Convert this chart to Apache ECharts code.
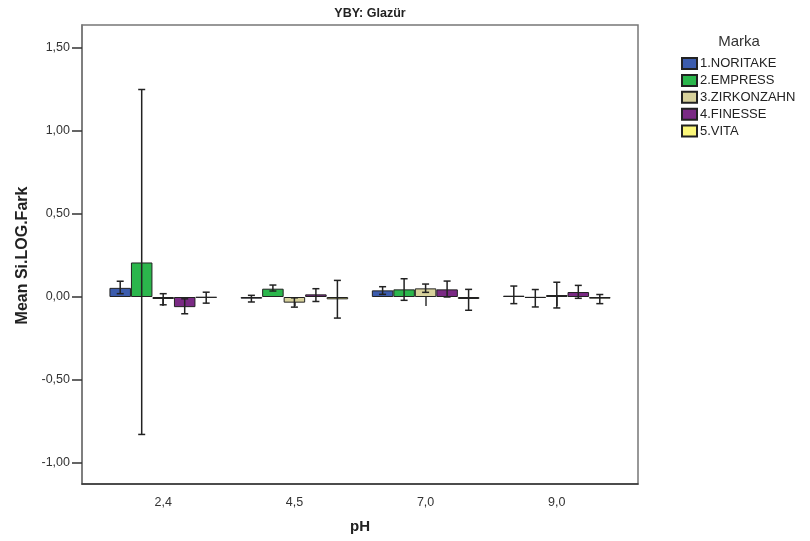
<!DOCTYPE html>
<html>
<head>
<meta charset="utf-8">
<script src="https://cdn.jsdelivr.net/npm/echarts@6/dist/echarts.min.js"></script>
<style>html,body{margin:0;padding:0;background:#fff;}#c{width:810px;height:541px;}</style>
</head>
<body>
<div id="c"></div>
<script>
var categories = ['2,4', '4,5', '7,0', '9,0'];
var brands = ['1.NORITAKE', '2.EMPRESS', '3.ZIRKONZAHN', '4.FINESSE', '5.VITA'];
var colors = ['#3c5cad', '#2bb64c', '#d8d29c', '#7a2a84', '#fbf77a'];
var yTicks = [-1.0, -0.5, 0.0, 0.5, 1.0, 1.5];

// means per brand across pH categories
var noritake = [0.055, -0.010, 0.040, 0.008];
var empress = [0.208, 0.050, 0.046, -0.005];
var zirkonzahn = [-0.012, -0.034, 0.052, 0.012];
var finesse = [-0.061, 0.016, 0.046, 0.030];
var vita = [-0.004, -0.014, -0.012, -0.010];

// error bar lows / highs
var noritakeLow = [0.020, -0.030, 0.016, -0.040];
var noritakeHigh = [0.095, 0.010, 0.062, 0.066];
var empressLow = [-0.828, 0.036, -0.020, -0.060];
var empressHigh = [1.250, 0.072, 0.110, 0.045];
var zirkonzahnLow = [-0.047, -0.061, 0.028, -0.066];
var zirkonzahnHigh = [0.020, -0.005, 0.078, 0.089];
var finesseLow = [-0.101, -0.027, 0.000, -0.008];
var finesseHigh = [-0.011, 0.050, 0.096, 0.070];
var vitaLow = [-0.037, -0.127, -0.080, -0.040];
var vitaHigh = [0.029, 0.100, 0.046, 0.015];

var means = [noritake, empress, zirkonzahn, finesse, vita];
var lows = [noritakeLow, empressLow, zirkonzahnLow, finesseLow, vitaLow];
var highs = [noritakeHigh, empressHigh, zirkonzahnHigh, finesseHigh, vitaHigh];

var FONT = 'Liberation Sans';
var BAR_W = 21.5;

var chart = echarts.init(document.getElementById('c'), null, {renderer: 'canvas'});

var series = [];
brands.forEach(function (b, i) {
  series.push({
    name: b,
    type: 'bar',
    xAxisIndex: 1,
    yAxisIndex: 1,
    barWidth: BAR_W,
    barGap: '0%',
    itemStyle: {color: colors[i], borderColor: '#222', borderWidth: 1},
    emphasis: {disabled: true},
    data: means[i],
    z: 2
  });
});
brands.forEach(function (b, i) {
  var d = categories.map(function (c, k) { return [k, lows[i][k], highs[i][k]]; });
  series.push({
    name: 'err' + i,
    type: 'custom',
    xAxisIndex: 1,
    yAxisIndex: 1,
    z: 5,
    data: d,
    renderItem: function (params, api) {
      var k = api.value(0);
      var lo = api.coord([k, api.value(1)]);
      var hi = api.coord([k, api.value(2)]);
      var x = lo[0] + (i - 2) * BAR_W;
      var cap = 3.5;
      var st = {stroke: '#222', lineWidth: 1.5};
      return {
        type: 'group',
        children: [
          {type: 'line', shape: {x1: x, y1: lo[1], x2: x, y2: hi[1]}, style: st},
          {type: 'line', shape: {x1: x - cap, y1: lo[1], x2: x + cap, y2: lo[1]}, style: st},
          {type: 'line', shape: {x1: x - cap, y1: hi[1], x2: x + cap, y2: hi[1]}, style: st}
        ]
      };
    }
  });
});

var option = {
  animation: false,
  backgroundColor: '#fff',
  textStyle: {fontFamily: FONT},
  title: [{
    text: 'YBY: Glazür',
    left: 370, top: 7, textAlign: 'center', padding: 0,
    textStyle: {fontFamily: FONT, fontSize: 12.5, fontWeight: 'bold', color: '#222'}
  }, {
    text: 'Marka',
    left: 739, top: 34, textAlign: 'center', padding: 0,
    textStyle: {fontFamily: FONT, fontSize: 15, fontWeight: 'normal', color: '#333'}
  }],
  legend: {
    data: brands,
    orient: 'vertical',
    left: 676, top: 52,
    itemWidth: 15, itemHeight: 11, itemGap: 3.9,
    icon: 'rect',
    selectedMode: false,
    textStyle: {fontFamily: FONT, fontSize: 13, lineHeight: 12, color: '#222', padding: [0, 0, 0, -2]}
  },
  grid: [
    {left: 82, right: 172, top: 25, bottom: 57, show: true, borderColor: '#777', borderWidth: 1.5, backgroundColor: '#fff'},
    {left: 97.6, right: 187.6, top: 48, bottom: 78}
  ],
  xAxis: [
    {gridIndex: 0, type: 'value', min: 0, max: 1, show: true,
      axisLine: {show: true, onZero: false, lineStyle: {color: '#333', width: 1.5}},
      axisTick: {show: false}, axisLabel: {show: false}, splitLine: {show: false}},
    {gridIndex: 1, type: 'category', data: categories, offset: 21,
      name: 'pH', nameLocation: 'middle', nameGap: 35,
      nameTextStyle: {fontFamily: FONT, fontSize: 15, fontWeight: 'bold', color: '#222'},
      axisLine: {show: false},
      axisTick: {show: true, alignWithLabel: true, length: 9, lineStyle: {color: '#333', width: 1.5}},
      axisLabel: {fontFamily: FONT, fontSize: 12.5, color: '#333', margin: 12},
      splitLine: {show: false}}
  ],
  yAxis: [
    {gridIndex: 0, type: 'value', min: 0, max: 1, show: true,
      axisLine: {show: true, onZero: false, lineStyle: {color: '#777', width: 1.5}},
      axisTick: {show: false}, axisLabel: {show: false}, splitLine: {show: false}},
    {gridIndex: 1, type: 'value', min: yTicks[0], max: yTicks[yTicks.length - 1], interval: 0.5, offset: 15.6,
      name: 'Mean Si.LOG.Fark', nameLocation: 'middle', nameGap: 48,
      nameTextStyle: {fontFamily: FONT, fontSize: 16, fontWeight: 'bold', color: '#222'},
      axisLine: {show: false},
      axisTick: {show: true, length: 10, lineStyle: {color: '#333', width: 1.5}},
      axisLabel: {fontFamily: FONT, fontSize: 12.5, color: '#333', margin: 12,
        formatter: function (v) { return v.toFixed(2).replace('.', ','); }},
      splitLine: {show: false}}
  ],
  series: series
};
chart.setOption(option);
</script>
</body>
</html>
